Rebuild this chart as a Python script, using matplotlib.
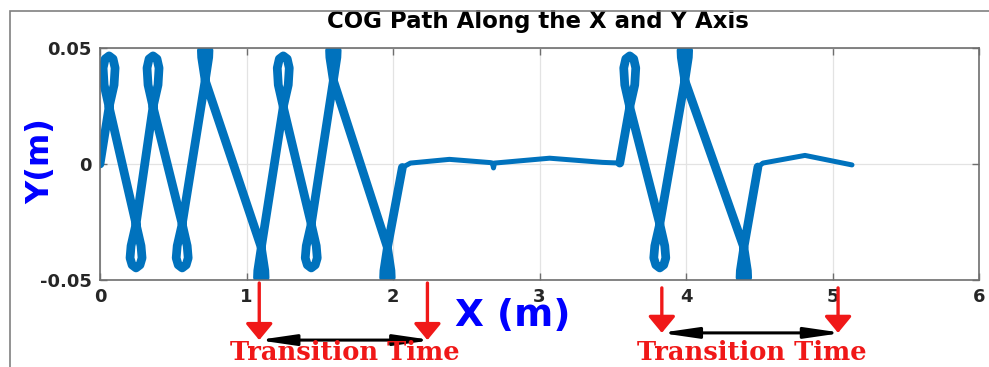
import matplotlib
matplotlib.use("Agg")
import matplotlib.pyplot as plt
from matplotlib.patches import Rectangle

# COG path, first walking phase (loops at the lateral extremes)
walk1_x = [0.000,
           0.062, 0.096, 0.103, 0.089, 0.062, 0.035, 0.021, 0.028, 0.062,
           0.246, 0.280, 0.287, 0.273, 0.246, 0.219, 0.205, 0.212, 0.246,
           0.362, 0.396, 0.403, 0.389, 0.362, 0.335, 0.321, 0.328, 0.362,
           0.561, 0.595, 0.602, 0.588, 0.561, 0.534, 0.520, 0.527, 0.561,
           0.718, 0.742, 0.744, 0.718, 0.692, 0.694, 0.718,
           1.101, 1.125, 1.127, 1.101, 1.075, 1.077, 1.101,
           1.251, 1.285, 1.292, 1.278, 1.251, 1.224, 1.210, 1.217, 1.251,
           1.442, 1.476, 1.483, 1.469, 1.442, 1.415, 1.401, 1.408, 1.442,
           1.593, 1.617, 1.619, 1.593, 1.567, 1.569, 1.593,
           1.962, 1.986, 1.988, 1.962, 1.936, 1.938, 1.962,
           2.064]
walk1_y = [0.0000,
           0.0246, 0.0341, 0.0414, 0.0453, 0.0466, 0.0453, 0.0414, 0.0341, 0.0246,
           -0.0259, -0.0353, -0.0405, -0.0435, -0.0448, -0.0435, -0.0405, -0.0353, -0.0259,
           0.0246, 0.0341, 0.0414, 0.0453, 0.0466, 0.0453, 0.0414, 0.0341, 0.0246,
           -0.0259, -0.0353, -0.0405, -0.0435, -0.0448, -0.0435, -0.0405, -0.0353, -0.0259,
           0.0360, 0.0460, 0.0490, 0.0505, 0.0490, 0.0460, 0.0360,
           -0.0360, -0.0460, -0.0490, -0.0505, -0.0490, -0.0460, -0.0360,
           0.0246, 0.0341, 0.0414, 0.0453, 0.0466, 0.0453, 0.0414, 0.0341, 0.0246,
           -0.0259, -0.0353, -0.0405, -0.0435, -0.0448, -0.0435, -0.0405, -0.0353, -0.0259,
           0.0360, 0.0460, 0.0490, 0.0505, 0.0490, 0.0460, 0.0360,
           -0.0360, -0.0460, -0.0490, -0.0505, -0.0490, -0.0460, -0.0360,
           -0.0015]

# first transition (nearly straight)
trans1_x = [2.064, 2.119, 2.385, 2.665, 2.679, 2.686, 2.693, 3.069, 3.431, 3.548]
trans1_y = [-0.0015, 0.0004, 0.0020, 0.0006, 0.0004, -0.0017, 0.0004, 0.0025, 0.0007, 0.0004]

# second walking phase
walk2_x = [3.548,
           3.616, 3.650, 3.657, 3.643, 3.616, 3.589, 3.575, 3.582, 3.616,
           3.821, 3.855, 3.862, 3.848, 3.821, 3.794, 3.780, 3.787, 3.821,
           3.992, 4.016, 4.018, 3.992, 3.966, 3.968, 3.992,
           4.395, 4.419, 4.421, 4.395, 4.369, 4.371, 4.395,
           4.491]
walk2_y = [0.0004,
           0.0246, 0.0341, 0.0414, 0.0453, 0.0466, 0.0453, 0.0414, 0.0341, 0.0246,
           -0.0259, -0.0353, -0.0405, -0.0435, -0.0448, -0.0435, -0.0405, -0.0353, -0.0259,
           0.0360, 0.0460, 0.0490, 0.0505, 0.0490, 0.0460, 0.0360,
           -0.0360, -0.0460, -0.0490, -0.0505, -0.0490, -0.0460, -0.0360,
           -0.0013]

# second transition
trans2_x = [4.491, 4.525, 4.812, 5.133]
trans2_y = [-0.0013, 0.0004, 0.0037, -0.0004]

x_ticks = [0, 1, 2, 3, 4, 5, 6]
x_ticklabels = ["0", "1", "2", "3", "4", "5", "6"]
y_ticks = [-0.05, 0, 0.05]
y_ticklabels = ["-0.05", "0", "0.05"]

# start / end of the two transition windows (x positions of the red arrows)
transitions = [(1.087, 2.235), (3.835, 5.038)]

blue = "#0072BD"
red = "#F01818"
dark = "#262626"

fig = plt.figure(figsize=(9.89, 3.67), dpi=100)
fig.add_artist(Rectangle((10 / 989, -0.2), 1.2, 1.2 - 11 / 367, transform=fig.transFigure,
                         fill=False, edgecolor="#808080", lw=1.2))
ax = fig.add_axes([100 / 989, 87 / 367, 879 / 989, 232 / 367])

for xs, ys, w in [(walk1_x, walk1_y, 6.3), (trans1_x, trans1_y, 3.6),
                  (walk2_x, walk2_y, 6.3), (trans2_x, trans2_y, 3.6)]:
    ax.plot(xs, ys, color=blue, lw=w, solid_joinstyle="round", solid_capstyle="round")

ax.set_xlim(0, 6)
ax.set_ylim(-0.05, 0.05)
ax.set_xticks(x_ticks)
ax.set_xticklabels(x_ticklabels)
ax.set_yticks(y_ticks)
ax.set_yticklabels(y_ticklabels)
ax.grid(True, color="#e3e3e3", lw=0.9)
ax.set_axisbelow(True)
for s in ax.spines.values():
    s.set_color("#6e6e6e")
    s.set_linewidth(1.2)
ax.tick_params(direction="in", length=5, width=1, color="#6e6e6e", top=True, right=True,
               labelsize=13, labelcolor=dark)
ax.tick_params(axis="x", pad=6)
ax.tick_params(axis="y", pad=6)
for lab in ax.get_xticklabels() + ax.get_yticklabels():
    lab.set_fontweight("bold")

ax.set_title("COG Path Along the X and Y Axis", fontsize=16.5, fontweight="bold",
             color="black", x=0.498, y=1.078, va="center")
ax.set_ylabel("Y(m)", fontsize=23, fontweight="bold", color="blue")
ax.yaxis.set_label_coords(-0.067, 0.513)
ax.yaxis.label.set_va("center")
ax.set_xlabel("X (m)", fontsize=27, fontweight="bold", color="blue")
ax.xaxis.set_label_coords(0.470, -0.155)
ax.xaxis.label.set_va("center")

red_y = [(-0.013, -0.259), (-0.034, -0.228)]
for (t0, t1), (ya, yb) in zip(transitions, red_y):
    for t in (t0, t1):
        ax.annotate("", xy=(t, yb), xytext=(t, ya),
                    xycoords=("data", "axes fraction"), textcoords=("data", "axes fraction"),
                    annotation_clip=False,
                    arrowprops=dict(arrowstyle="-|>,head_length=0.4,head_width=0.33",
                                    mutation_scale=25, lw=2.4, color=red,
                                    shrinkA=0, shrinkB=0))
    ax.annotate("", xy=(t1 + 0.03, yb), xytext=(t0 - 0.01, yb),
                xycoords=("data", "axes fraction"), textcoords=("data", "axes fraction"),
                annotation_clip=False,
                arrowprops=dict(arrowstyle="<|-|>,head_length=1.1,head_width=0.16",
                                mutation_scale=20, lw=2.2, color="black",
                                shrinkA=0, shrinkB=0))
    ax.text((t0 + t1) / 2 + 0.01, -0.343, "Transition Time", transform=ax.get_xaxis_transform(),
            ha="center", va="baseline", fontsize=18.5, fontweight="bold", color=red,
            family="DejaVu Serif", clip_on=False)

fig.savefig("out.png", dpi=100)
